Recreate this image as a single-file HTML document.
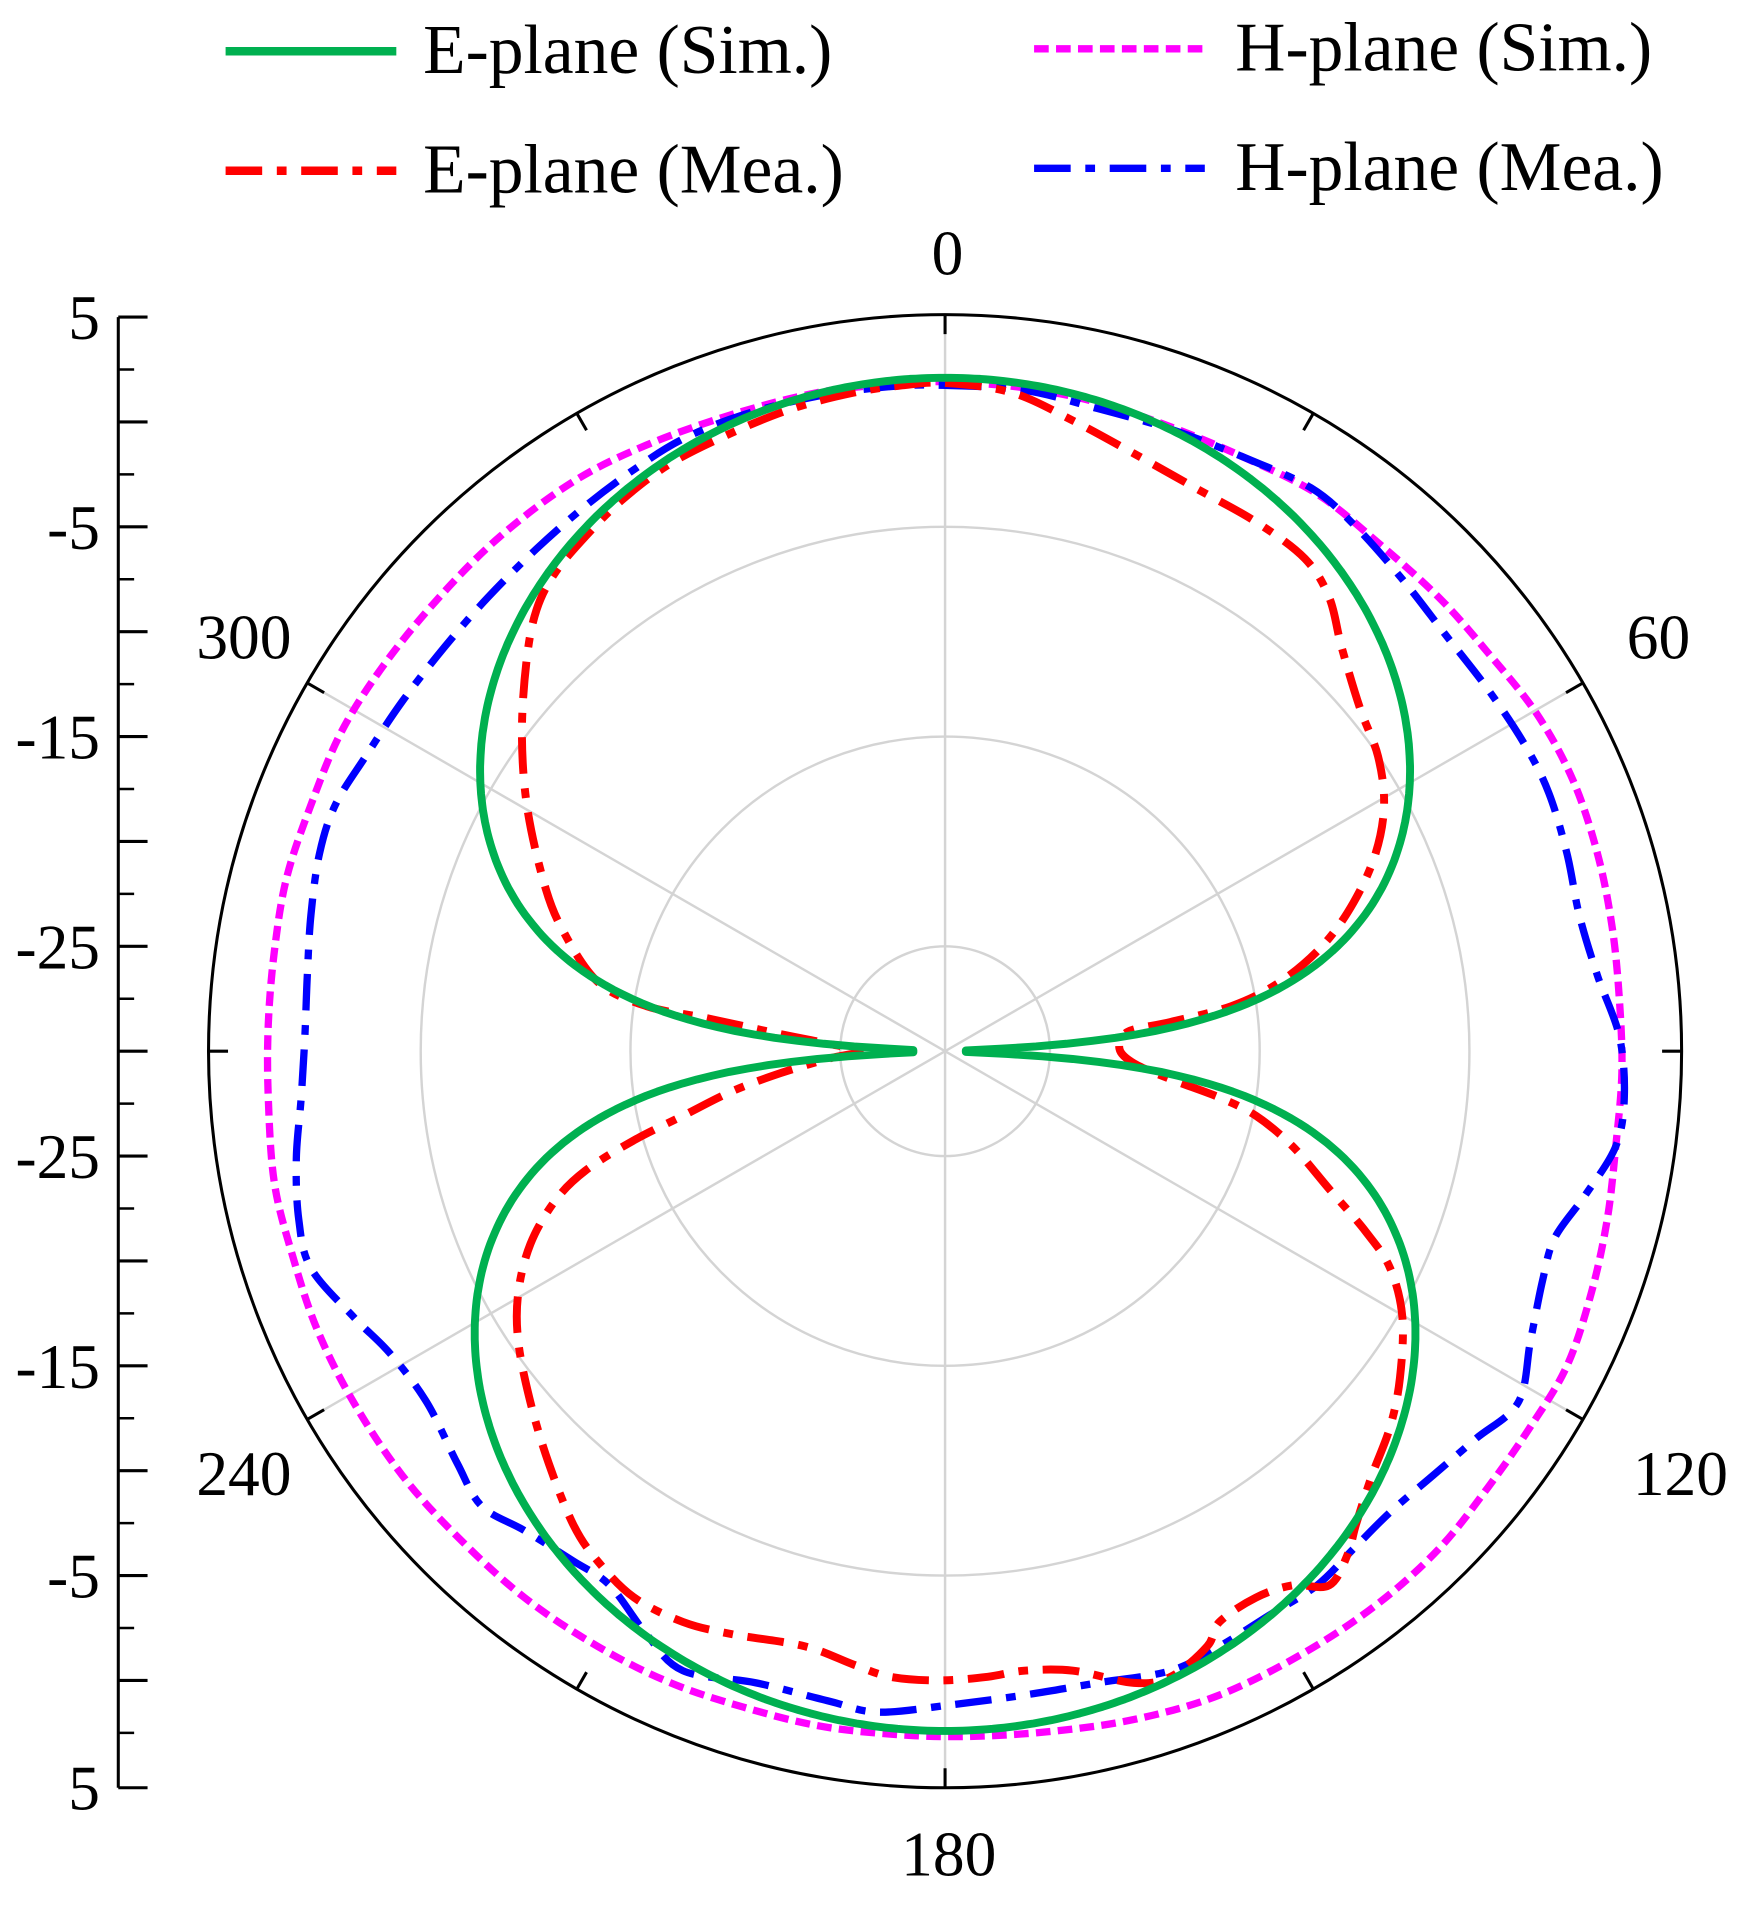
<!DOCTYPE html>
<html><head><meta charset="utf-8"><style>
html,body{margin:0;padding:0;background:#fff}
svg{display:block}
text{font-family:"Liberation Serif",serif;fill:#000}
</style></head><body>
<svg id="s" width="1756" height="1913" viewBox="0 0 1440 1568.7" preserveAspectRatio="none" xmlns="http://www.w3.org/2000/svg">
<g id="grid" fill="none"></g>
<g id="curves" fill="none" stroke-linejoin="round"></g>
<g id="ax"></g>
<line x1="185" y1="42" x2="325" y2="42" stroke="#00b050" stroke-width="7"/>
<text x="347" y="60" font-size="57">E-plane (Sim.)</text>
<line x1="185" y1="140" x2="325" y2="140" stroke="#ff0000" stroke-width="7" stroke-dasharray="30 12 8 12"/>
<text x="347" y="158" font-size="57">E-plane (Mea.)</text>
<line x1="848" y1="40" x2="988" y2="40" stroke="#ff00ff" stroke-width="6" stroke-dasharray="12 6"/>
<text x="1013" y="58" font-size="57">H-plane (Sim.)</text>
<line x1="848" y1="138" x2="988" y2="138" stroke="#0000ff" stroke-width="6" stroke-dasharray="30 12 8 12"/>
<text x="1013" y="156" font-size="57">H-plane (Mea.)</text>
<g font-size="52" text-anchor="middle">
<text x="777" y="225">0</text>
<text x="1360" y="540">60</text>
<text x="200" y="540">300</text>
<text x="1378" y="1226">120</text>
<text x="200" y="1226">240</text>
<text x="778" y="1538">180</text>
</g>
</svg>
<script>
const NS="http://www.w3.org/2000/svg";
const cx=775,cy=862,R=604;
function el(p,tag,a){const e=document.createElementNS(NS,tag);for(const k in a)e.setAttribute(k,a[k]);p.appendChild(e);return e;}
const g=document.getElementById('grid');
[86,258,430].forEach(r=>el(g,'circle',{cx,cy,r,stroke:'#d4d4d4','stroke-width':2}));
for(let a=0;a<360;a+=60){const t=a*Math.PI/180;el(g,'line',{x1:cx,y1:cy,x2:cx+R*Math.sin(t),y2:cy-R*Math.cos(t),stroke:'#d4d4d4','stroke-width':2});}
el(g,'circle',{cx,cy,r:R,stroke:'#000','stroke-width':2.5});
for(let a=0;a<360;a+=30){const t=a*Math.PI/180,s=Math.sin(t),c=Math.cos(t);
 el(g,'line',{x1:cx+(R-16)*s,y1:cy-(R-16)*c,x2:cx+R*s,y2:cy-R*c,stroke:'#000','stroke-width':2.5});}
const ax=document.getElementById('ax');
el(ax,'line',{x1:97,y1:260,x2:97,y2:1466,stroke:'#000','stroke-width':2.5});
const labs=['5','-5','-15','-25','-25','-15','-5','5'];
const ys=[260,432,604,776,948,1120,1292,1466];
for(let i=0;i<8;i++){const y=ys[i];el(ax,'line',{x1:97,y1:y,x2:121,y2:y,stroke:'#000','stroke-width':2.5});
 const t=el(ax,'text',{x:82,y:y+18,'font-size':52,'text-anchor':'end'});t.textContent=labs[i];
 if(i<7){el(ax,'line',{x1:97,y1:y+43,x2:110,y2:y+43,stroke:'#000','stroke-width':2});el(ax,'line',{x1:97,y1:y+86,x2:121,y2:y+86,stroke:'#000','stroke-width':2.5});el(ax,'line',{x1:97,y1:y+129,x2:110,y2:y+129,stroke:'#000','stroke-width':2});}}
const cv=document.getElementById('curves');
function path(pts,attrs){let d='M'+pts.map(p=>p[0].toFixed(1)+','+p[1].toFixed(1)).join(' L')+' Z';attrs.d=d;el(cv,'path',attrs);}
function smooth(pts,attrs){
 const n=pts.length;let d='M'+pts[0][0]+','+pts[0][1];
 for(let i=0;i<n;i++){const p0=pts[(i-1+n)%n],p1=pts[i],p2=pts[(i+1)%n],p3=pts[(i+2)%n];
  d+=` C${p1[0]+(p2[0]-p0[0])/6},${p1[1]+(p2[1]-p0[1])/6} ${p2[0]-(p3[0]-p1[0])/6},${p2[1]-(p3[1]-p1[1])/6} ${p2[0]},${p2[1]}`;}
 attrs.d=d;el(cv,'path',attrs);}
const mag=[[775,313],[840,318],[900,330],[960,350],[1020,375],[1080,405],[1130,445],[1180,490],[1220,535],[1260,585],[1290,640],[1310,700],[1322,760],[1328,820],[1330,880],[1325,940],[1318,1000],[1305,1060],[1285,1120],[1255,1170],[1220,1220],[1180,1270],[1130,1315],[1070,1355],[1000,1390],[930,1410],[860,1420],[790,1424],[730,1422],[670,1415],[610,1400],[550,1380],[490,1350],[430,1310],[375,1260],[330,1210],[290,1150],[260,1090],[240,1030],[225,970],[220,900],[220,840],[225,780],[235,720],[255,660],[280,600],[315,545],[360,490],[410,440],[470,395],[530,365],[600,340],[670,322],[730,315]];
smooth(mag,{stroke:'#ff00ff','stroke-width':6,'stroke-dasharray':'12 6'});
const blu=[[775,316],[840,320],[900,335],[960,352],[1020,375],[1075,400],[1110,430],[1150,475],[1185,520],[1220,565],[1250,610],[1270,650],[1285,700],[1295,750],[1310,800],[1328,850],[1332,900],[1325,940],[1300,980],[1275,1015],[1265,1050],[1255,1100],[1245,1150],[1210,1180],[1175,1210],[1140,1240],[1110,1270],[1080,1300],[1040,1325],[1000,1350],[960,1370],[900,1380],[840,1390],[780,1398],[720,1404],[680,1395],[620,1380],[560,1370],[530,1340],[500,1300],[470,1280],[430,1255],[395,1235],[375,1200],[350,1150],[320,1110],[290,1080],[255,1040],[245,1000],[243,950],[247,900],[250,850],[252,800],[255,750],[262,700],[275,660],[300,620],[330,575],[365,530],[400,490],[440,450],[480,415],[520,385],[560,360],[610,340],[670,325],[730,317]];
smooth(blu,{stroke:'#0000ff','stroke-width':6,'stroke-dasharray':'30 12 8 12'});
const red=[[775,314],[830,322],[880,345],[930,372],[980,400],[1030,428],[1070,458],[1090,490],[1100,530],[1115,580],[1130,620],[1135,660],[1128,700],[1110,740],[1085,775],[1050,805],[1010,825],[960,838],[925,846],[918,860],[930,872],[960,885],[1000,900],[1030,915],[1060,940],[1090,975],[1120,1010],[1140,1040],[1150,1080],[1148,1130],[1140,1170],[1125,1210],[1112,1250],[1105,1275],[1090,1300],[1060,1300],[1030,1310],[1000,1330],[990,1350],[960,1375],[930,1380],[880,1370],[840,1370],[810,1375],[770,1378],[730,1375],[700,1365],[660,1350],[600,1340],[560,1330],[520,1310],[490,1280],[470,1250],[450,1200],[435,1150],[425,1100],[425,1060],[435,1020],[455,985],[480,960],[520,935],[560,915],[600,895],[640,880],[680,868],[705,862],[680,856],[640,848],[580,835],[530,825],[490,805],[460,760],[445,720],[432,660],[428,600],[432,540],[440,500],[455,470],[480,440],[510,410],[550,380],[600,355],[650,335],[700,322],[740,316]];
smooth(red,{stroke:'#ff0000','stroke-width':6.5,'stroke-dasharray':'30 12 8 12'});
const gp=[];
for(let a=0;a<360;a+=0.5){const t=a*Math.PI/180;let c=Math.abs(Math.cos(t));c=Math.max(c,0.03);
 const gain=(Math.cos(t)>=0)?2.0:2.3;let db=gain+20*1.08*Math.log10(c);
 const rmin=(Math.sin(t)>=0)?17:26;
 const r=Math.max((db+30)/35*R,rmin);gp.push([cx+r*Math.sin(t),cy-r*Math.cos(t)]);}
path(gp,{stroke:'#00b050','stroke-width':6.5});
</script>
</body></html>
